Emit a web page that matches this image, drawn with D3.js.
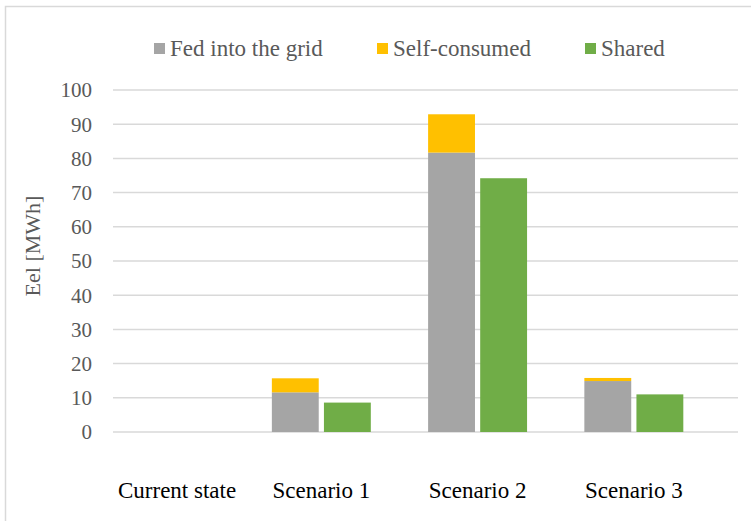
<!DOCTYPE html>
<html><head><meta charset="utf-8">
<script src="https://cdn.jsdelivr.net/npm/d3@7"></script>
<style>body{margin:0;background:#fff}svg{display:block}</style>
</head><body>
<svg id="c" width="751" height="521"></svg>
<script>
const categories = ["Current state", "Scenario 1", "Scenario 2", "Scenario 3"];
const fedIntoGrid = [0, 11.6, 81.7, 14.9];
const selfConsumed = [0, 4.1, 11.2, 0.9];
const shared = [0, 8.6, 74.2, 11.0];
const yTicks = [0, 10, 20, 30, 40, 50, 60, 70, 80, 90, 100];
const seriesNames = ["Fed into the grid", "Self-consumed", "Shared"];
const colors = ["#A5A5A5", "#FFC000", "#70AD47"];

(function () {
const svg = d3.select("#c");
const FF = '"Liberation Serif"';
const pLeft = 113, pRight = 738, pTop = 90, pBottom = 432;

// frame
svg.append("rect").attr("x", 5.5).attr("y", 6.5).attr("width", 800).attr("height", 600)
  .attr("fill", "none").attr("stroke", "#d9d9d9").attr("stroke-width", 1.5);

const x = d3.scaleBand().domain(categories).range([pLeft, pRight]);
const slots = d3.scaleBand().domain(["stack", "shared", "blank"]).range([0, x.bandwidth()])
  .paddingInner(0.1).paddingOuter(0.05);
const y = d3.scaleLinear().domain([0, 100]).range([pBottom, pTop]);

// gridlines
svg.append("g").selectAll("line").data(yTicks).join("line")
  .attr("x1", pLeft).attr("x2", pRight)
  .attr("y1", d => y(d)).attr("y2", d => y(d))
  .attr("stroke", "#d9d9d9").attr("stroke-width", 1.5);

// y axis labels
const yAxis = d3.axisLeft(y).tickValues(yTicks).tickSize(0).tickPadding(0);
const ya = svg.append("g").attr("transform", "translate(92,0)").call(yAxis);
ya.select(".domain").remove();
ya.selectAll("text").style("font-family", FF).style("font-size", "21px")
  .attr("fill", "#595959").attr("dy", "0.33em");

// axis title
svg.append("text").attr("transform", "translate(40,246) rotate(-90)")
  .attr("text-anchor", "middle").style("font-family", FF).style("font-size", "22px")
  .attr("fill", "#595959").text("Eel [MWh]");

// stacked data
const rows = categories.map((c, i) => ({cat: c, fed: fedIntoGrid[i], self: selfConsumed[i], shared: shared[i]}));
const stack = d3.stack().keys(["fed", "self"])(rows);
const g = svg.append("g");
stack.forEach((layer, li) => {
  g.append("g").attr("fill", colors[li]).selectAll("rect").data(layer).join("rect")
    .attr("x", d => x(d.data.cat) + slots("stack"))
    .attr("width", slots.bandwidth())
    .attr("y", d => y(d[1]))
    .attr("height", d => y(d[0]) - y(d[1]));
});
g.append("g").attr("fill", colors[2]).selectAll("rect").data(rows).join("rect")
  .attr("x", d => x(d.cat) + slots("shared"))
  .attr("width", slots.bandwidth())
  .attr("y", d => y(d.shared))
  .attr("height", d => y(0) - y(d.shared));

// category labels
const xl = svg.append("g");
categories.forEach(c => {
  const center = x(c) + (slots("stack") + slots("shared") + slots.bandwidth()) / 2;
  const t = xl.append("text").attr("y", 498).attr("text-anchor", "middle")
    .style("font-family", FF).style("font-size", "23px").attr("fill", "#000").text(c);
  const w = t.node().getComputedTextLength();
  t.attr("x", Math.max(center, pLeft + w / 2 + 5));
});

// legend
const legendX = [154, 377, 585];
const lg = svg.append("g");
seriesNames.forEach((n, i) => {
  lg.append("rect").attr("x", legendX[i]).attr("y", 43).attr("width", 11).attr("height", 11).attr("fill", colors[i]);
  lg.append("text").attr("x", legendX[i] + 16).attr("y", 56)
    .style("font-family", FF).style("font-size", "23px").attr("fill", "#595959").text(n);
});
})();
</script>
</body></html>
